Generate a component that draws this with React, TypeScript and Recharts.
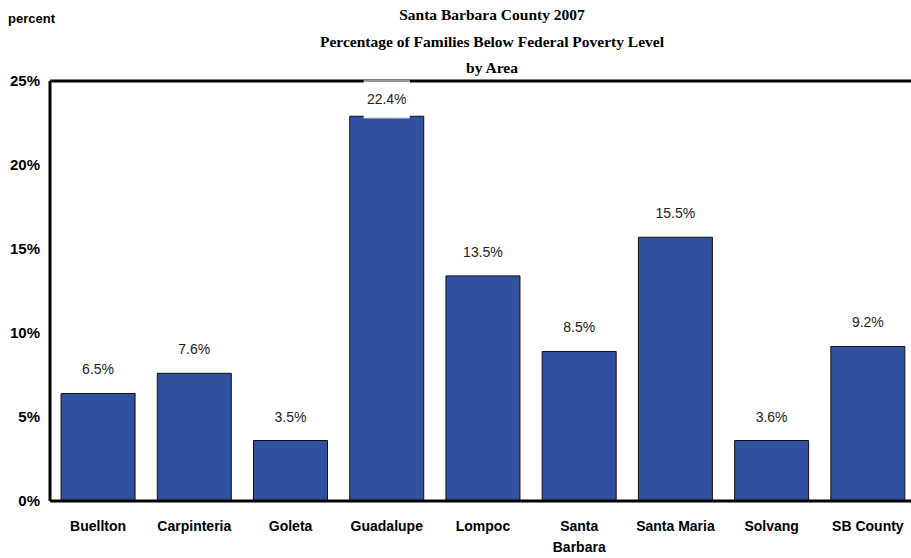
import { Bar, BarChart, LabelList, ReferenceLine, Text, XAxis, YAxis } from "recharts";

const areas = [
  "Buellton",
  "Carpinteria",
  "Goleta",
  "Guadalupe",
  "Lompoc",
  "Santa Barbara",
  "Santa Maria",
  "Solvang",
  "SB County",
];
const barValues = [6.4, 7.6, 3.6, 22.9, 13.4, 8.9, 15.7, 3.6, 9.2];
const labelText = ["6.5%", "7.6%", "3.5%", "22.4%", "13.5%", "8.5%", "15.5%", "3.6%", "9.2%"];
const yTicks = [0, 5, 10, 15, 20, 25];
const titleLines = [
  "Santa Barbara County 2007",
  "Percentage of Families Below Federal Poverty Level",
  "by Area",
];

const data = areas.map((area, i) => ({ area, value: barValues[i], label: labelText[i] }));

const SANS = "'Liberation Sans', Arial, sans-serif";
const PLOT_TOP = 81;

function AreaTick(props: any) {
  const { x, y, payload } = props;
  return (
    <Text
      x={x}
      y={y + 12}
      width={92}
      textAnchor="middle"
      verticalAnchor="start"
      lineHeight={21}
      style={{ fontFamily: SANS, fontSize: 14, fontWeight: 700, fill: "#000" }}
    >
      {payload.value}
    </Text>
  );
}

function ValueLabel(props: any) {
  const { x, y, width, index } = props;
  const cx = x + width / 2;
  let cy = y - 24;
  const clamped = cy < PLOT_TOP + 18;
  if (clamped) cy = PLOT_TOP + 18;
  return (
    <g>
      {clamped && (
        <g>
          <rect x={cx - 23} y={cy - 18} width={46} height={37} fill="#fff" />
          <line x1={cx - 23} x2={cx + 23} y1={cy - 18} y2={cy - 18} stroke="#999" strokeWidth={2} />
          <line x1={cx - 23} x2={cx + 23} y1={cy + 19} y2={cy + 19} stroke="#ccc" strokeWidth={1} />
        </g>
      )}
      <text
        x={cx}
        y={cy}
        textAnchor="middle"
        dominantBaseline="central"
        style={{ fontFamily: SANS, fontSize: 14, fill: "#222" }}
      >
        {labelText[index]}
      </text>
    </g>
  );
}

export default function App() {
  return (
    <div
      style={{
        position: "absolute",
        left: 0,
        top: 0,
        width: 911,
        height: 558,
        overflow: "hidden",
        background: "#fff",
      }}
    >
      <div
        style={{
          position: "absolute",
          left: 8,
          top: 11,
          fontFamily: SANS,
          fontSize: 13,
          fontWeight: 700,
        }}
      >
        percent
      </div>
      {titleLines.map((line, i) => (
        <div
          key={line}
          style={{
            position: "absolute",
            left: 292,
            width: 400,
            top: 6 + i * 26.5,
            textAlign: "center",
            fontFamily: "'Liberation Serif', 'Times New Roman', serif",
            fontSize: 15.5,
            fontWeight: 700,
          }}
        >
          {line}
        </div>
      ))}
      <BarChart
        width={920}
        height={558}
        data={data}
        margin={{ top: PLOT_TOP, right: 4, left: 0, bottom: 0 }}
        barCategoryGap="11.5%"
      >
        <ReferenceLine y={25} stroke="#000" strokeWidth={3} />
        <XAxis
          dataKey="area"
          interval={0}
          height={57}
          axisLine={{ stroke: "#000", strokeWidth: 3 }}
          tickLine={false}
          tick={<AreaTick />}
        />
        <YAxis
          width={50}
          domain={[0, 25]}
          ticks={yTicks}
          tickFormatter={(v) => `${v}%`}
          axisLine={{ stroke: "#000", strokeWidth: 3 }}
          tickLine={false}
          tickSize={0}
          tickMargin={10}
          tick={{ fontFamily: SANS, fontSize: 15, fontWeight: 700, fill: "#000" }}
        />
        <Bar dataKey="value" fill="#3050a0" stroke="#111" strokeWidth={1} isAnimationActive={false}>
          <LabelList dataKey="label" content={<ValueLabel />} />
        </Bar>
      </BarChart>
    </div>
  );
}
